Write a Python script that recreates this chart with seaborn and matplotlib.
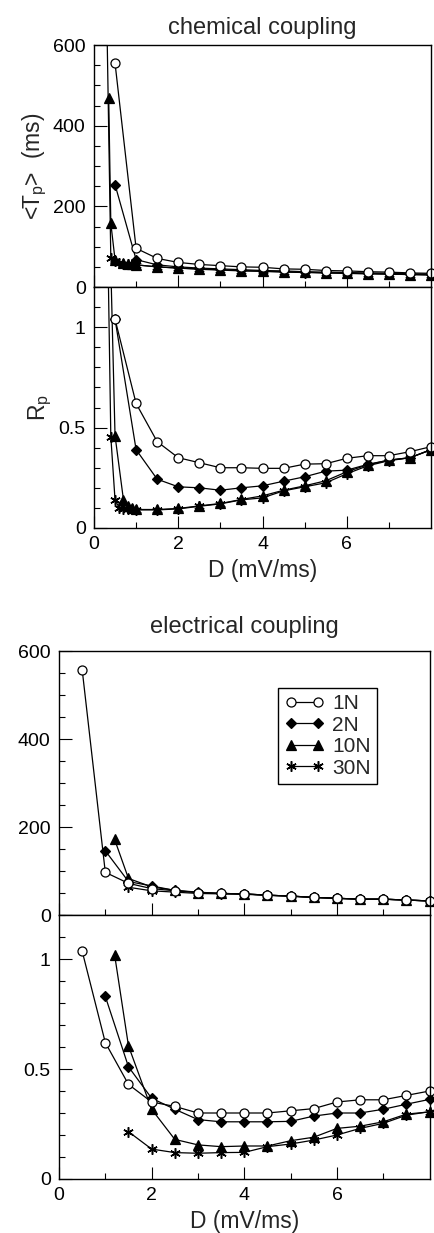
import numpy as np
import pandas as pd
import seaborn as sns
import matplotlib
matplotlib.use('Agg')
from matplotlib import pyplot as plt
from matplotlib.ticker import MultipleLocator, FixedLocator, FixedFormatter
from matplotlib.patches import Rectangle

# --- DATA ---
# chemical coupling, D (mV/ms) vs mean period <Tp> (ms) and Rp
chem_x_1n = [0.5, 1.0, 1.5, 2.0, 2.5, 3.0, 3.5, 4.0, 4.5, 5.0, 5.5, 6.0, 6.5, 7.0, 7.5, 8.0]
chem_tp_1n = [555, 96, 71, 61, 56, 53, 50, 49, 45, 44, 41, 40, 38, 37, 35, 34]
chem_rp_1n = [1.04, 0.62, 0.43, 0.35, 0.325, 0.30, 0.30, 0.297, 0.297, 0.318, 0.32, 0.347, 0.36, 0.36, 0.38, 0.405]

chem_x_2n = [0.5, 1.0, 1.5, 2.0, 2.5, 3.0, 3.5, 4.0, 4.5, 5.0, 5.5, 6.0, 6.5, 7.0, 7.5, 8.0]
chem_tp_2n = [254, 68, 55, 50, 47, 45, 43, 41, 40, 38, 37, 36, 35, 34, 33, 32]
chem_rp_2n = [1.04, 0.39, 0.243, 0.205, 0.20, 0.188, 0.20, 0.21, 0.233, 0.255, 0.283, 0.288, 0.317, 0.338, 0.35, 0.39]

chem_x_10n = [0.35, 0.4, 0.5, 0.7, 0.8, 0.9, 1.0, 1.5, 2.0, 2.5, 3.0, 3.5, 4.0, 4.5, 5.0, 5.5, 6.0, 6.5, 7.0, 7.5, 8.0]
chem_tp_10n = [468, 158, 68, 60, 57, 56, 55, 50, 47, 45, 43, 41, 39, 38, 37, 35, 34, 33, 32, 31, 30]
chem_rp_10n = [1.6, 1.3, 0.46, 0.14, 0.11, 0.10, 0.092, 0.092, 0.097, 0.11, 0.122, 0.142, 0.16, 0.188, 0.21, 0.235, 0.28, 0.315, 0.338, 0.35, 0.39]

chem_x_30n = [0.3, 0.4, 0.5, 0.6, 0.7, 0.8, 0.9, 1.0, 1.5, 2.0, 2.5, 3.0, 3.5, 4.0, 4.5, 5.0, 5.5, 6.0, 6.5, 7.0, 7.5, 8.0]
chem_tp_30n = [700, 72, 64, 60, 58, 57, 56, 55, 50, 47, 44, 42, 40, 39, 37, 36, 35, 34, 33, 32, 31, 30]
chem_rp_30n = [1.8, 0.455, 0.14, 0.10, 0.095, 0.095, 0.092, 0.09, 0.09, 0.095, 0.108, 0.12, 0.14, 0.15, 0.185, 0.205, 0.225, 0.27, 0.31, 0.335, 0.35, 0.39]

# electrical coupling
elec_x_1n = [0.5, 1.0, 1.5, 2.0, 2.5, 3.0, 3.5, 4.0, 4.5, 5.0, 5.5, 6.0, 6.5, 7.0, 7.5, 8.0]
elec_tp_1n = [558, 97, 72, 60, 55, 51, 49, 48, 45, 43, 40, 38, 36, 36, 34, 32]
elec_rp_1n = [1.036, 0.62, 0.43, 0.35, 0.33, 0.30, 0.30, 0.30, 0.30, 0.31, 0.32, 0.35, 0.36, 0.36, 0.38, 0.40]

elec_x_2n = [1.0, 1.5, 2.0, 2.5, 3.0, 3.5, 4.0, 4.5, 5.0, 5.5, 6.0, 6.5, 7.0, 7.5, 8.0]
elec_tp_2n = [146, 76, 66, 56, 52, 49, 48, 45, 43, 40, 38, 36, 36, 34, 32]
elec_rp_2n = [0.83, 0.51, 0.367, 0.317, 0.27, 0.26, 0.26, 0.26, 0.262, 0.286, 0.30, 0.30, 0.317, 0.34, 0.362]

elec_x_10n = [1.2, 1.5, 2.0, 2.5, 3.0, 3.5, 4.0, 4.5, 5.0, 5.5, 6.0, 6.5, 7.0, 7.5, 8.0]
elec_tp_10n = [172, 83, 64, 56, 51, 49, 48, 45, 43, 40, 38, 36, 36, 34, 32]
elec_rp_10n = [1.02, 0.605, 0.317, 0.18, 0.155, 0.147, 0.15, 0.15, 0.174, 0.19, 0.23, 0.24, 0.26, 0.295, 0.305]

elec_x_30n = [1.5, 2.0, 2.5, 3.0, 3.5, 4.0, 4.5, 5.0, 5.5, 6.0, 6.5, 7.0, 7.5, 8.0]
elec_tp_30n = [63, 55, 52, 49, 48, 47, 45, 43, 40, 38, 36, 36, 34, 32]
elec_rp_30n = [0.215, 0.136, 0.12, 0.117, 0.12, 0.121, 0.147, 0.159, 0.177, 0.20, 0.23, 0.253, 0.29, 0.306]

names = ['1N', '2N', '10N', '30N']

# --- STYLE ---
sns.set_style('ticks')
plt.rcParams['font.family'] = ['Liberation Sans', 'DejaVu Sans']
plt.rcParams['mathtext.fontset'] = 'custom'
plt.rcParams['mathtext.rm'] = 'Liberation Sans'
plt.rcParams['mathtext.it'] = 'Liberation Sans'

marker_kws = {
    '1N': dict(marker='o', mfc='white', ms=6.5, mew=0.9),
    '2N': dict(marker='D', mfc='black', ms=5.5, mew=0.9),
    '10N': dict(marker='^', mfc='black', ms=7, mew=0.9),
    '30N': dict(marker=(6, 2, 0), mfc='black', ms=7.5, mew=1.1),
}

tick_fs = 14
lab_fs = 16.5


def draw_series(ax, x, y, name):
    sns.lineplot(x=x, y=y, ax=ax, color='black', lw=0.9, mec='black',
                 sort=False, estimator=None, legend=False, label=name,
                 **marker_kws[name])


def style_axes(ax, top_panel):
    ax.set_xlim(0, 8)
    for s in ax.spines.values():
        s.set_visible(True)
        s.set_linewidth(1.0)
        s.set_color('black')
    ax.xaxis.set_major_locator(FixedLocator([0, 2, 4, 6]))
    ax.xaxis.set_minor_locator(FixedLocator([1, 3, 5, 7]))
    if top_panel:
        ax.set_ylim(0, 600)
        ax.yaxis.set_major_locator(MultipleLocator(200))
        ax.yaxis.set_minor_locator(MultipleLocator(50))
    else:
        ax.set_ylim(0, 1.2)
        ax.yaxis.set_major_locator(FixedLocator([0, 0.5, 1.0]))
        ax.yaxis.set_major_formatter(FixedFormatter(['0', '0.5', '1']))
        ax.yaxis.set_minor_locator(MultipleLocator(0.1))
    ax.tick_params(which='both', direction='in', top=False, right=False,
                   labelsize=tick_fs, width=0.8, colors='black')
    ax.tick_params(which='major', length=9, pad=6)
    ax.tick_params(which='minor', length=4.5)
    if top_panel:
        ax.tick_params(axis='x', labelbottom=False)
    else:
        ax.set_xlabel('D (mV/ms)', fontsize=lab_fs, labelpad=4)
    ax.set_ylabel('')
    # let edge markers overhang the box sideways but clip the tall points
    for line in ax.lines:
        line.set_clip_path(Rectangle((-0.05, -0.05), 1.1, 1.05,
                                     transform=ax.transAxes))


fig = plt.figure(figsize=(4.35, 12.33), dpi=100)
ax1 = fig.add_axes([0.216, 0.7672, 0.775, 0.1963])
ax2 = fig.add_axes([0.216, 0.5718, 0.775, 0.1954])
ax3 = fig.add_axes([0.1356, 0.2579, 0.852, 0.2141])
ax4 = fig.add_axes([0.1356, 0.0438, 0.852, 0.2141])

chem_tp = [(chem_x_1n, chem_tp_1n), (chem_x_2n, chem_tp_2n), (chem_x_10n, chem_tp_10n), (chem_x_30n, chem_tp_30n)]
chem_rp = [(chem_x_1n, chem_rp_1n), (chem_x_2n, chem_rp_2n), (chem_x_10n, chem_rp_10n), (chem_x_30n, chem_rp_30n)]
elec_tp = [(elec_x_1n, elec_tp_1n), (elec_x_2n, elec_tp_2n), (elec_x_10n, elec_tp_10n), (elec_x_30n, elec_tp_30n)]
elec_rp = [(elec_x_1n, elec_rp_1n), (elec_x_2n, elec_rp_2n), (elec_x_10n, elec_rp_10n), (elec_x_30n, elec_rp_30n)]

for ax, sets in [(ax1, chem_tp), (ax2, chem_rp), (ax3, elec_tp), (ax4, elec_rp)]:
    # draw 30N first so open circles sit on top
    for name, (x, y) in list(zip(names, sets))[::-1]:
        draw_series(ax, x, y, name)

style_axes(ax1, True)
style_axes(ax2, False)
style_axes(ax3, True)
style_axes(ax4, False)

ax1.set_ylabel(r'<T$_{\rm p}$>  (ms)', fontsize=lab_fs, labelpad=3)
ax2.set_ylabel(r'R$_{\rm p}$', fontsize=lab_fs, labelpad=3)
ax1.set_title('chemical coupling', fontsize=17, pad=8)
ax3.set_title('electrical coupling', fontsize=17, pad=13)

handles, labels = ax3.get_legend_handles_labels()
order = [labels.index(n) for n in names]
leg = ax3.legend([handles[i] for i in order], [labels[i] for i in order],
                 loc='upper left', bbox_to_anchor=(0.591, 0.86), borderaxespad=0,
                 fontsize=15, numpoints=2, handlelength=1.9, handletextpad=0.4,
                 labelspacing=0.12, borderpad=0.3, fancybox=False, framealpha=1,
                 edgecolor='black')
leg.get_frame().set_linewidth(1.0)

fig.savefig('out.png', dpi=100)
